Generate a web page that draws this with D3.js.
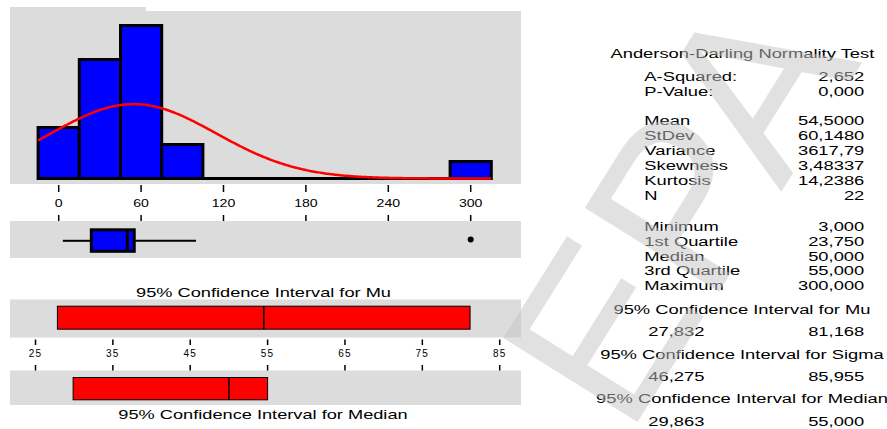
<!DOCTYPE html>
<html><head><meta charset="utf-8">
<script src="https://cdn.jsdelivr.net/npm/d3@7"></script>
<style>
body{margin:0;background:#fff}
svg{display:block}
text{font-family:"Liberation Sans",Arial,Helvetica,sans-serif}
</style>
</head><body>
<svg id="chart" width="887" height="429"></svg>
<script>
// ---- data ----
const binCenters = [0, 30, 60, 90, 120, 150, 180, 210, 240, 270, 300];
const binCounts  = [3, 7, 9, 2, 0, 0, 0, 0, 0, 0, 1];
const binWidth = 30;
const histTicks = [0, 60, 120, 180, 240, 300];

const sampleMean = 54.5, sampleSd = 60.148, sampleN = 22;
const boxMin = 3, boxQ1 = 23.75, boxMedian = 50, boxQ3 = 55, whiskerHigh = 100;
const outliers = [300];

const ciMu = [27.832, 81.168];
const ciMedian = [29.863, 55.0];
const ciTicks = [25, 35, 45, 55, 65, 75, 85];

const testRows = [["A-Squared:", "2,652"], ["P-Value:", "0,000"]];
const descRows = [["Mean", "54,5000"], ["StDev", "60,1480"], ["Variance", "3617,79"],
                  ["Skewness", "3,48337"], ["Kurtosis", "14,2386"], ["N", "22"]];
const quantRows = [["Minimum", "3,000"], ["1st Quartile", "23,750"], ["Median", "50,000"],
                   ["3rd Quartile", "55,000"], ["Maximum", "300,000"]];
const ciRows = [["95% Confidence Interval for Mu", "27,832", "81,168"],
                ["95% Confidence Interval for Sigma", "46,275", "85,955"],
                ["95% Confidence Interval for Median", "29,863", "55,000"]];

// ---- setup ----
const svg = d3.select("#chart");
const GRAY = "#dcdcdc", BLUE = "#0000ff", RED = "#ff0000";
const SX = 1.36; // horizontal stretch of lettering

function label(g, x, y, s, size, anchor, sx) {
  return g.append("text")
    .attr("transform", `translate(${x},${y}) scale(${sx || SX},1)`)
    .attr("text-anchor", anchor || "start")
    .attr("font-size", size)
    .attr("fill", "#000")
    .text(s);
}

const panelL = 10, panelR = 521;
const x = d3.scaleLinear().domain([0, 300]).range([58.7, 470.7]);
const y = d3.scaleLinear().domain([0, 9]).range([178.5, 25.5]);

// ---- histogram panel ----
svg.append("rect").attr("x", panelL).attr("y", 7).attr("width", 146 - panelL).attr("height", 20).attr("fill", GRAY);
svg.append("rect").attr("x", panelL).attr("y", 11).attr("width", panelR - panelL).attr("height", 173).attr("fill", GRAY);

// baseline across every bin
svg.append("line")
  .attr("x1", x(binCenters[0] - binWidth / 2)).attr("x2", x(binCenters[binCenters.length - 1] + binWidth / 2))
  .attr("y1", y(0)).attr("y2", y(0))
  .attr("stroke", "#000").attr("stroke-width", 3);

const bins = binCenters.map((c, i) => ({c, n: binCounts[i]})).filter(d => d.n > 0);
svg.append("g").selectAll("rect").data(bins).join("rect")
  .attr("x", d => x(d.c - binWidth / 2))
  .attr("width", d => x(d.c + binWidth / 2) - x(d.c - binWidth / 2))
  .attr("y", d => y(d.n))
  .attr("height", d => y(0) - y(d.n))
  .attr("fill", BLUE).attr("stroke", "#000").attr("stroke-width", 3);

// fitted normal curve, scaled to counts per bin
const pdf = v => Math.exp(-0.5 * ((v - sampleMean) / sampleSd) ** 2) / (sampleSd * Math.sqrt(2 * Math.PI));
const curveXs = d3.range(binCenters[0] - binWidth / 2, binCenters[binCenters.length - 1] + binWidth / 2 + 0.5, 1);
svg.append("path")
  .datum(curveXs)
  .attr("d", d3.line().x(v => x(v)).y(v => y(pdf(v) * sampleN * binWidth)))
  .attr("fill", "none").attr("stroke", RED).attr("stroke-width", 2.5);

// histogram axis: ticks above and below the labels
const histAxis = svg.append("g");
histTicks.forEach(t => {
  histAxis.append("line").attr("x1", x(t)).attr("x2", x(t)).attr("y1", 185).attr("y2", 192)
    .attr("stroke", "#000").attr("stroke-width", 1.5);
  histAxis.append("line").attr("x1", x(t)).attr("x2", x(t)).attr("y1", 215).attr("y2", 222)
    .attr("stroke", "#000").attr("stroke-width", 1.5);
  label(histAxis, x(t), 207.3, String(t), 11, "middle", 1.28);
});

// ---- box plot panel ----
svg.append("rect").attr("x", panelL).attr("y", 221).attr("width", panelR - panelL).attr("height", 37).attr("fill", GRAY);
const bY = 240.8;
svg.append("line").attr("x1", x(boxMin)).attr("x2", x(boxQ1)).attr("y1", bY).attr("y2", bY)
  .attr("stroke", "#000").attr("stroke-width", 2);
svg.append("line").attr("x1", x(boxQ3)).attr("x2", x(whiskerHigh)).attr("y1", bY).attr("y2", bY)
  .attr("stroke", "#000").attr("stroke-width", 2);
svg.append("rect").attr("x", x(boxQ1)).attr("width", x(boxQ3) - x(boxQ1))
  .attr("y", 229.8).attr("height", 21.5)
  .attr("fill", BLUE).attr("stroke", "#000").attr("stroke-width", 3);
svg.append("line").attr("x1", x(boxMedian)).attr("x2", x(boxMedian)).attr("y1", 229.8).attr("y2", 251.3)
  .attr("stroke", "#000").attr("stroke-width", 3);
svg.append("g").selectAll("circle").data(outliers).join("circle")
  .attr("cx", d => x(d)).attr("cy", 239.5).attr("r", 3).attr("fill", "#000");

// ---- confidence interval panels ----
const cx = d3.scaleLinear().domain([25, 85]).range([35.5, 499.7]);

label(svg, 263.5, 297, "95% Confidence Interval for Mu", 13.2, "middle", 1.38);
svg.append("rect").attr("x", panelL).attr("y", 299.5).attr("width", panelR - panelL).attr("height", 38).attr("fill", GRAY);
svg.append("rect").attr("x", cx(ciMu[0])).attr("width", cx(ciMu[1]) - cx(ciMu[0]))
  .attr("y", 306.2).attr("height", 23)
  .attr("fill", RED).attr("stroke", "#000").attr("stroke-width", 1);
svg.append("line").attr("x1", cx(sampleMean)).attr("x2", cx(sampleMean)).attr("y1", 306.2).attr("y2", 329.2)
  .attr("stroke", "#000").attr("stroke-width", 1.5);

const ciAxis = svg.append("g");
ciTicks.forEach(t => {
  ciAxis.append("line").attr("x1", cx(t)).attr("x2", cx(t)).attr("y1", 339.5).attr("y2", 345)
    .attr("stroke", "#000").attr("stroke-width", 1.5);
  ciAxis.append("line").attr("x1", cx(t)).attr("x2", cx(t)).attr("y1", 365).attr("y2", 371)
    .attr("stroke", "#000").attr("stroke-width", 1.5);
  label(ciAxis, cx(t), 356.5, String(t), 10, "middle", 1.0).attr("letter-spacing", 1.2);
});

svg.append("rect").attr("x", panelL).attr("y", 370.5).attr("width", panelR - panelL).attr("height", 34.5).attr("fill", GRAY);
svg.append("rect").attr("x", cx(ciMedian[0])).attr("width", cx(ciMedian[1]) - cx(ciMedian[0]))
  .attr("y", 377.5).attr("height", 22.3)
  .attr("fill", RED).attr("stroke", "#000").attr("stroke-width", 1);
svg.append("line").attr("x1", cx(boxMedian)).attr("x2", cx(boxMedian)).attr("y1", 377.5).attr("y2", 399.8)
  .attr("stroke", "#000").attr("stroke-width", 1.5);
label(svg, 263, 419, "95% Confidence Interval for Median", 13.2, "middle", 1.38);

// ---- summary table ----
const tbl = svg.append("g");
const labX = 644.3, valX = 864.3, fs = 13.5, base = 4.9;
label(tbl, 742.4, 53.3 + base, "Anderson-Darling Normality Test", fs, "middle");
const rowsAt = (rows, y0, step) => rows.forEach((r, i) => {
  label(tbl, labX, y0 + i * step + base, r[0], fs, "start");
  label(tbl, valX, y0 + i * step + base, r[1], fs, "end");
});
rowsAt(testRows, 76, 14.7);
rowsAt(descRows, 120, 15.05);
rowsAt(quantRows, 226, 14.83);
ciRows.forEach((r, i) => {
  const y0 = 308.7 + i * 44.9;
  label(tbl, 742, y0 + base, r[0], fs, "middle");
  label(tbl, 648.3, y0 + 22.5 + base, r[1], fs, "start");
  label(tbl, valX, y0 + 22.5 + base, r[2], fs, "end");
});

// ---- faint diagonal watermark over the table ----
svg.append("text")
  .attr("transform", "translate(745,250) rotate(-58)")
  .attr("text-anchor", "middle")
  .attr("font-size", 230)
  .style("fill", "rgb(195,195,195)")
  .style("fill-opacity", 0.5)
  .text("EPA");
</script>
</body></html>
